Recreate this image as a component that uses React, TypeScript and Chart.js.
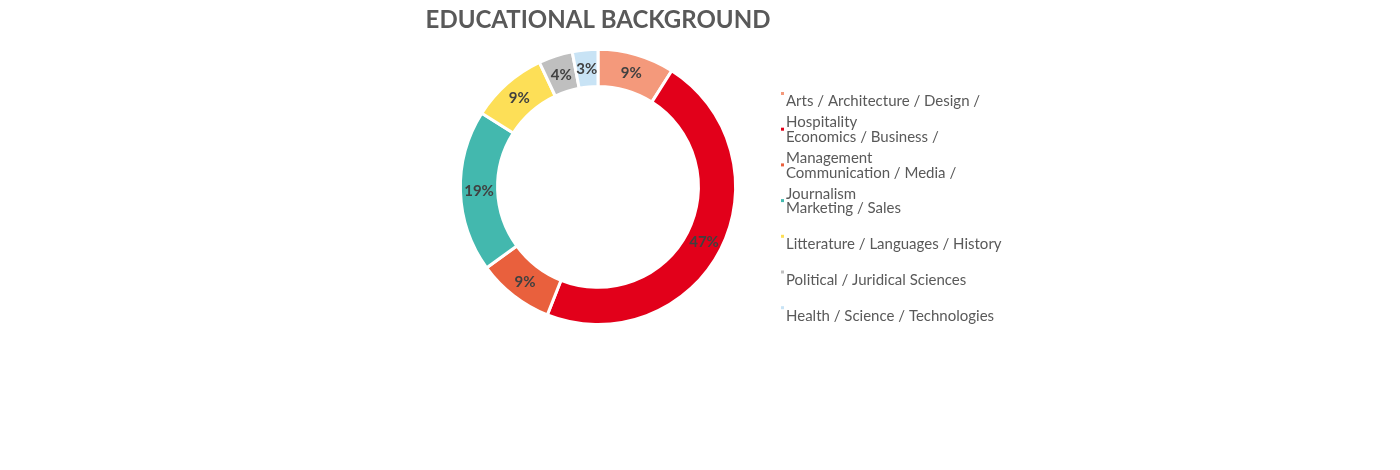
import { useEffect, useRef } from 'react';
import { Chart, registerables } from 'chart.js';

Chart.register(...registerables);

// chart data, clockwise from 12 o'clock
const categories = [
  'Arts / Architecture / Design / Hospitality',
  'Economics / Business / Management',
  'Communication / Media / Journalism',
  'Marketing / Sales',
  'Litterature / Languages / History',
  'Political / Juridical Sciences',
  'Health / Science / Technologies',
];
const shares = [9, 47, 9, 19, 9, 4, 3];
const sliceColors = ['#F4997B', '#E2001A', '#E9603D', '#43B8AE', '#FDDF57', '#BFBFBF', '#C8E3F5'];

const FONT = 'Lato, "Open Sans", sans-serif';
const TEXT_GREY = '#595959';

// wraps a legend label the way Excel does (greedy, by width)
function wrapText(ctx: CanvasRenderingContext2D, text: string, maxWidth: number): string[] {
  const words = text.split(' ');
  const lines: string[] = [];
  let line = '';
  for (const w of words) {
    const test = line ? line + ' ' + w : w;
    if (line && ctx.measureText(test).width > maxWidth) {
      lines.push(line);
      line = w;
    } else {
      line = test;
    }
  }
  if (line) lines.push(line);
  return lines;
}

const percentLabels = {
  id: 'percentLabels',
  afterDatasetsDraw(chart: any) {
    const ctx = chart.ctx;
    const meta = chart.getDatasetMeta(0);
    const values = chart.data.datasets[0].data as number[];
    const total = values.reduce((a, b) => a + b, 0);
    ctx.save();
    ctx.font = `bold 15px ${FONT}`;
    ctx.fillStyle = '#404040';
    ctx.textAlign = 'center';
    ctx.textBaseline = 'middle';
    meta.data.forEach((arc: any, i: number) => {
      const p = arc.getCenterPoint();
      ctx.fillText(Math.round((values[i] / total) * 100) + '%', p.x, p.y + 1);
    });
    ctx.restore();
  },
};

const sideLegend = {
  id: 'sideLegend',
  afterDraw(chart: any) {
    const ctx = chart.ctx;
    const colors = chart.data.datasets[0].backgroundColor as string[];
    const x = 786;
    const top = 101.5;
    const step = 35.7;
    const lineGap = 21;
    ctx.save();
    ctx.font = `15px ${FONT}`;
    ctx.textBaseline = 'middle';
    ctx.textAlign = 'left';
    (chart.data.labels as string[]).forEach((label, i) => {
      const y = top + i * step;
      ctx.fillStyle = colors[i];
      ctx.fillRect(x - 5, y - 9.5, 3, 3);
      ctx.fillStyle = TEXT_GREY;
      wrapText(ctx, label, 235).forEach((ln, k) => {
        ctx.fillText(ln, x, y + k * lineGap);
      });
    });
    ctx.restore();
  },
};

export default function App() {
  const canvasRef = useRef<HTMLCanvasElement>(null);
  const chartRef = useRef<Chart | null>(null);

  useEffect(() => {
    if (!canvasRef.current) return;
    if (chartRef.current) chartRef.current.destroy();
    const ctx = canvasRef.current.getContext('2d');
    if (!ctx) return;

    chartRef.current = new Chart(ctx, {
      type: 'doughnut',
      data: {
        labels: categories,
        datasets: [
          {
            data: shares,
            backgroundColor: sliceColors,
            borderColor: '#ffffff',
            borderWidth: 3,
            hoverOffset: 0,
          },
        ],
      },
      options: {
        responsive: true,
        maintainAspectRatio: false,
        animation: false,
        cutout: '73%',
        layout: {
          padding: { left: 300, right: 504, top: 0, bottom: 144 },
        },
        plugins: {
          legend: { display: false },
          tooltip: { enabled: false },
          title: {
            display: true,
            text: 'EDUCATIONAL BACKGROUND',
            color: TEXT_GREY,
            font: { family: FONT, size: 24, weight: 'bold' },
            padding: { top: 6, bottom: 13 },
          },
        },
      },
      plugins: [percentLabels, sideLegend],
    });

    return () => {
      if (chartRef.current) {
        chartRef.current.destroy();
        chartRef.current = null;
      }
    };
  }, []);

  return (
    <div style={{ position: 'absolute', left: 0, top: 0, width: 1400, height: 470, background: '#fff' }}>
      <canvas ref={canvasRef} />
    </div>
  );
}
